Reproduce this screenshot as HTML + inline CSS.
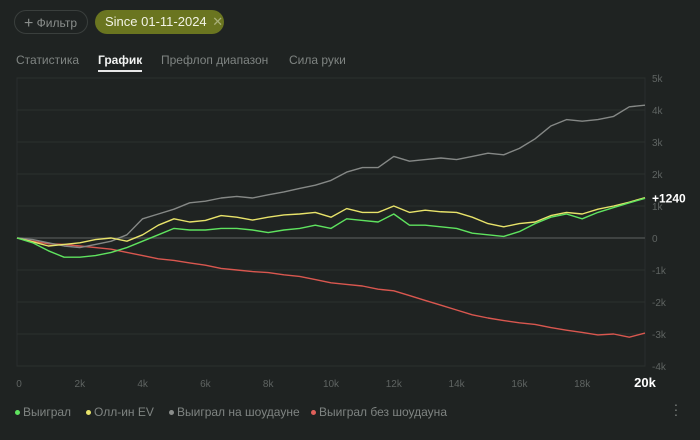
<!DOCTYPE html>
<html><head><meta charset="utf-8">
<style>
body{margin:0;width:700px;height:440px;background:#1f2322;font-family:"Liberation Sans",sans-serif;overflow:hidden;position:relative;color:#8b8f8d}
.btn{position:absolute;top:10px;height:24px;border-radius:12px;box-sizing:border-box;font-size:12px;line-height:24px;white-space:nowrap}
.tab{position:absolute;top:53px;font-size:12px;color:#7f8482;white-space:nowrap}
.leg{position:absolute;top:405px;font-size:12px;color:#7f8482;white-space:nowrap}
.dot{display:inline-block;width:5px;height:5px;border-radius:50%;margin-right:3px;vertical-align:middle}
</style></head><body>
<div class="btn" style="left:14px;width:74px;border:1px solid #3a3f3d;color:#8a8e8c;padding-left:9px"><span style="font-size:16px;vertical-align:-1px">+</span> Фильтр</div>
<div class="btn" style="left:95px;width:129px;background:#6a7520;color:#f2f3e6;padding-left:10px;font-size:13px">Since 01-11-2024 <span style="color:#a9b07a;margin-left:2px">✕</span></div>
<div class="tab" style="left:16px">Статистика</div>
<div class="tab" style="left:98px;color:#f2f3f2;font-weight:bold">График<div style="height:2px;background:#e8e8e8;margin-top:3px"></div></div>
<div class="tab" style="left:161px">Префлоп диапазон</div>
<div class="tab" style="left:289px">Сила руки</div>
<svg id="chart" width="700" height="440" style="position:absolute;left:0;top:0"></svg>
<div class="leg" style="left:15px"><span class="dot" style="background:#5fe35f"></span>Выиграл</div>
<div class="leg" style="left:86px"><span class="dot" style="background:#e8e36a"></span>Олл-ин EV</div>
<div class="leg" style="left:169px"><span class="dot" style="background:#8a8d8b"></span>Выиграл на шоудауне</div>
<div class="leg" style="left:311px"><span class="dot" style="background:#e0605a"></span>Выиграл без шоудауна</div>
<div style="position:absolute;left:673px;top:402px;color:#7f8482;font-size:14px;line-height:5px;width:6px;text-align:center">·<br>·<br>·</div>
<script>
const xTicks=[0,2000,4000,6000,8000,10000,12000,14000,16000,18000,20000];
const xTickLabels=["0","2k","4k","6k","8k","10k","12k","14k","16k","18k","20k"];
const yTicks=[5000,4000,3000,2000,1000,0,-1000,-2000,-3000,-4000];
const yTickLabels=["5k","4k","3k","2k","1k","0","-1k","-2k","-3k","-4k"];
const hands=[0,500,1000,1500,2000,2500,3000,3500,4000,4500,5000,5500,6000,6500,7000,7500,8000,8500,9000,9500,10000,10500,11000,11500,12000,12500,13000,13500,14000,14500,15000,15500,16000,16500,17000,17500,18000,18500,19000,19500,20000];
const won=[0,-150,-400,-600,-600,-550,-450,-300,-100,100,300,250,250,300,300,250,170,250,300,400,300,600,550,500,750,400,400,350,300,150,100,50,200,450,650,750,600,800,950,1100,1240];
const allinEv=[0,-120,-250,-200,-150,-50,0,-100,100,400,600,500,550,700,650,560,650,720,750,800,650,920,800,800,1000,800,870,820,800,650,450,350,450,500,700,800,750,900,1000,1120,1260];
const showdown=[0,-50,-150,-250,-300,-200,-100,100,600,750,900,1100,1150,1250,1300,1250,1350,1440,1550,1650,1800,2060,2200,2200,2550,2400,2450,2500,2450,2550,2650,2600,2800,3100,3500,3700,3650,3700,3800,4100,4150];
const noShowdown=[0,-100,-180,-200,-250,-300,-350,-450,-550,-650,-700,-780,-850,-950,-1000,-1050,-1080,-1150,-1200,-1300,-1400,-1450,-1500,-1600,-1650,-1800,-1950,-2100,-2250,-2400,-2500,-2580,-2650,-2700,-2800,-2880,-2950,-3030,-3000,-3100,-2970];
const L=17,R=645,T=78,B=366,XMAX=20000,YMAX=5000,YMIN=-4000;
const sx=v=>L+(v/XMAX)*(R-L);
const sy=v=>T+(YMAX-v)/(YMAX-YMIN)*(B-T);
const svg=document.getElementById('chart');
const NS='http://www.w3.org/2000/svg';
function mk(tag,attrs){const e=document.createElementNS(NS,tag);for(const k in attrs)e.setAttribute(k,attrs[k]);svg.appendChild(e);return e;}
const frame=mk('rect',{x:L,y:T,width:R-L,height:B-T,fill:'none',stroke:'#2a2e2d'});


yTicks.forEach((v,i)=>{
  const g=mk('line',{x1:L,x2:R,y1:sy(v),y2:sy(v),stroke:v===0?'#4a4e4c':'#2b302e','stroke-width':v===0?1.5:1});
  
  
  const t=mk('text',{x:652,y:sy(v)+4,fill:'#5f6462','font-size':'10'});
  t.textContent=yTickLabels[i];
  
  
});
xTicks.forEach((v,i)=>{
  const last=i===xTicks.length-1;
  const t=mk('text',{x:sx(v)+(i===0?2:0),y:387,fill:last?'#ffffff':'#5f6462','font-size':last?'13':'10','font-weight':last?'bold':'normal','text-anchor':'middle'});
  t.textContent=xTickLabels[i];
  
  
});
function line(vals,color,name){
  const p=mk('polyline',{points:vals.map((v,i)=>sx(hands[i])+','+sy(v)).join(' '),fill:'none',stroke:color,'stroke-width':1.4,'stroke-linejoin':'round'});
  
  
}
line(noShowdown,'#d9574f','series-won-no-showdown');
line(showdown,'#858886','series-won-showdown');
line(allinEv,'#e8e36a','series-allin-ev');
line(won,'#5fe35f','series-won');
const lbl=mk('text',{x:652,y:sy(won[won.length-1])+4,fill:'#ffffff','font-size':'12','font-weight':'bold'});
lbl.textContent='+'+won[won.length-1];


</script>
</body></html>
